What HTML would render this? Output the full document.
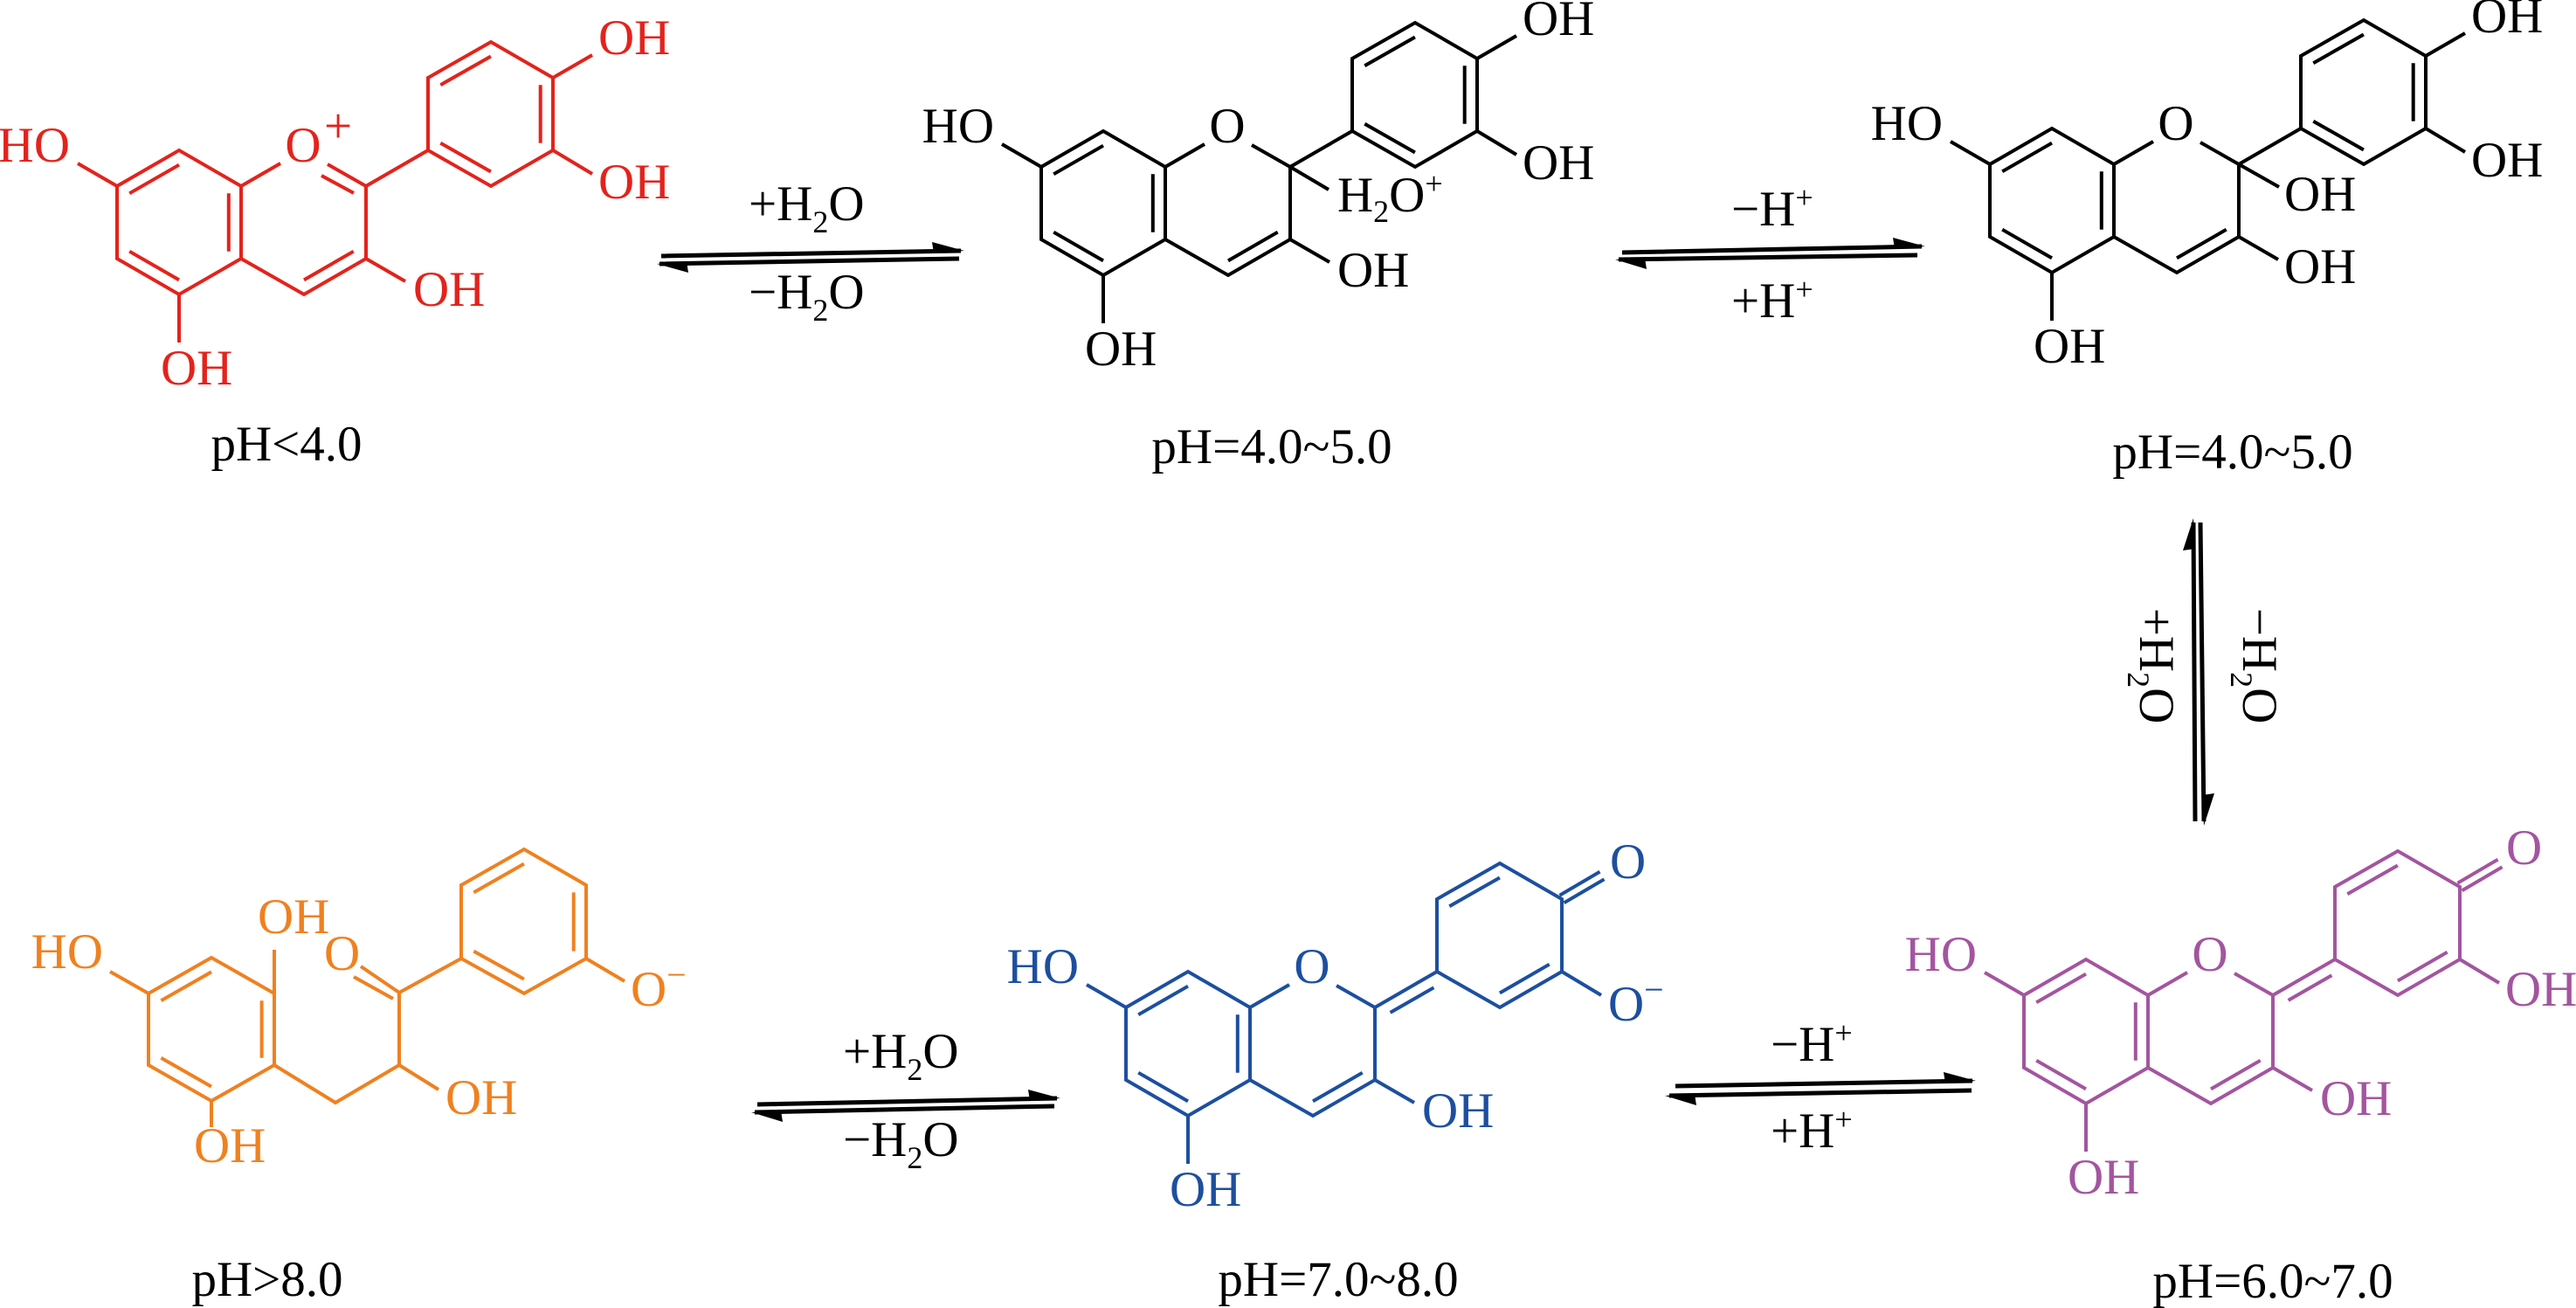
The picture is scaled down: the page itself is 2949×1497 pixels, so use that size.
<!DOCTYPE html>
<html><head><meta charset="utf-8"><style>
html,body{margin:0;padding:0;background:#fff;}
svg{display:block;}
text{font-family:"Liberation Serif",serif;font-size:57px;}
</style></head><body>
<svg width="2949" height="1497" viewBox="0 0 2949 1497" xmlns="http://www.w3.org/2000/svg">
<rect width="2949" height="1497" fill="#fff"/>

<!-- RED flavylium -->
<g transform="translate(134,213)" stroke="#e3231c" stroke-width="4" fill="none">
<path d="M0,0 L71,-41 L142,0 L142,83 L71,124 L0,83 Z M14.2,8.3 L71,-24.3 M127.8,8.3 L127.8,74.7 M71,107.4 L14.2,74.7 M142,0 L187,-26 M241,-25 L285,0 L285,83 L214,124 L142,83 M270.7,74.7 L214,107.4 M234,-12 L271,8 M0,0 L-45,-26 M71,124 L71,179 M285,83 L330,109 M285,0 L356,-41 M356,-41 L356,-124 L428,-165 L499,-124 L499,-41 L428,0 Z M370.3,-115.8 L427.9,-148.5 M370.3,-49.3 L427.9,-16.5 M484.7,-115.8 L484.7,-49.3 M499,-124 L544,-150 M499,-41 L544,-14"/>
<g fill="#e3231c" stroke="none">
<text x="-54" y="-28" text-anchor="end">HO</text>
<text x="213" y="-28" text-anchor="middle">O</text>
<text x="237" y="-50">+</text>
<text x="50" y="227">OH</text>
<text x="339" y="137">OH</text>
<text x="551" y="-151">OH</text>
<text x="551" y="14">OH</text>
</g></g>

<!-- MOL2 black -->
<g transform="translate(1192,191)" stroke="#000" stroke-width="4" fill="none">
<path d="M0,0 L71,-41 L142,0 L142,83 L71,124 L0,83 Z M14.2,8.3 L71,-24.3 M127.8,8.3 L127.8,74.7 M71,107.4 L14.2,74.7 M142,0 L187,-26 M241,-25 L285,0 L285,83 L214,124 L142,83 M270.7,74.7 L214,107.4 M0,0 L-45,-26 M71,124 L71,179 M285,83 L330,109 M285,0 L329,26 M285,0 L356,-41 M356,-41 L356,-124 L428,-165 L499,-124 L499,-41 L428,0 Z M370.3,-115.8 L427.9,-148.5 M370.3,-49.3 L427.9,-16.5 M484.7,-115.8 L484.7,-49.3 M499,-124 L544,-150 M499,-41 L544,-14"/>
<g fill="#000" stroke="none">
<text x="-54" y="-28" text-anchor="end">HO</text>
<text x="213" y="-28" text-anchor="middle">O</text>
<text x="50" y="227">OH</text>
<text x="339" y="137">OH</text>
<text x="339" y="51">H<tspan font-size="36" dy="12">2</tspan><tspan dy="-12">O</tspan><tspan font-size="36" dy="-20">+</tspan></text>
<text x="551" y="-151">OH</text>
<text x="551" y="14">OH</text>
</g></g>

<!-- MOL3 black -->
<g transform="translate(2278,188)" stroke="#000" stroke-width="4" fill="none">
<path d="M0,0 L71,-41 L142,0 L142,83 L71,124 L0,83 Z M14.2,8.3 L71,-24.3 M127.8,8.3 L127.8,74.7 M71,107.4 L14.2,74.7 M142,0 L187,-26 M241,-25 L285,0 L285,83 L214,124 L142,83 M270.7,74.7 L214,107.4 M0,0 L-45,-26 M71,124 L71,179 M285,83 L330,109 M285,0 L331,26 M285,0 L356,-41 M356,-41 L356,-124 L428,-165 L499,-124 L499,-41 L428,0 Z M370.3,-115.8 L427.9,-148.5 M370.3,-49.3 L427.9,-16.5 M484.7,-115.8 L484.7,-49.3 M499,-124 L544,-150 M499,-41 L544,-14"/>
<g fill="#000" stroke="none">
<text x="-54" y="-28" text-anchor="end">HO</text>
<text x="213" y="-28" text-anchor="middle">O</text>
<text x="50" y="227">OH</text>
<text x="337" y="136">OH</text>
<text x="337" y="53">OH</text>
<text x="551" y="-151">OH</text>
<text x="551" y="14">OH</text>
</g></g>

<!-- BLUE -->
<g transform="translate(1289,1153)" stroke="#1d4f9f" stroke-width="4" fill="none">
<path d="M0,0 L71,-41 L142,0 L142,83 L71,124 L0,83 Z M14.2,8.3 L71,-24.3 M127.8,8.3 L127.8,74.7 M71,107.4 L14.2,74.7 M142,0 L187,-26 M241,-25 L285,0 L285,83 L214,124 L142,83 M270.7,74.7 L214,107.4 M0,0 L-45,-26 M71,124 L71,179 M285,83 L330,109 M285,0 L356,-41 M302.6,5.9 L352.4,-22.7 M356,-41 L356,-124 L428,-165 L499,-124 L499,-41 L428,0 Z M370.3,-115.8 L427.9,-148.5 M484.7,-49.3 L427.9,-16.5 M501.5,-119.7 L547.5,-146.7 M496.5,-128.3 L542.5,-155.3 M499,-41 L544,-14"/>
<g fill="#1d4f9f" stroke="none">
<text x="-54" y="-28" text-anchor="end">HO</text>
<text x="213" y="-28" text-anchor="middle">O</text>
<text x="50" y="227">OH</text>
<text x="339" y="137">OH</text>
<text x="554" y="-148">O</text>
<text x="552" y="15">O<tspan font-size="40" dy="-22">−</tspan></text>
</g></g>

<!-- PINK -->
<g transform="translate(2317,1139)" stroke="#a3559f" stroke-width="4" fill="none">
<path d="M0,0 L71,-41 L142,0 L142,83 L71,124 L0,83 Z M14.2,8.3 L71,-24.3 M127.8,8.3 L127.8,74.7 M71,107.4 L14.2,74.7 M142,0 L187,-26 M241,-25 L285,0 L285,83 L214,124 L142,83 M270.7,74.7 L214,107.4 M0,0 L-45,-26 M71,124 L71,179 M285,83 L330,109 M285,0 L356,-41 M302.6,5.9 L352.4,-22.7 M356,-41 L356,-124 L428,-165 L499,-124 L499,-41 L428,0 Z M370.3,-115.8 L427.9,-148.5 M484.7,-49.3 L427.9,-16.5 M501.5,-119.7 L547.5,-146.7 M496.5,-128.3 L542.5,-155.3 M499,-41 L544,-14"/>
<g fill="#a3559f" stroke="none">
<text x="-54" y="-28" text-anchor="end">HO</text>
<text x="213" y="-28" text-anchor="middle">O</text>
<text x="50" y="227">OH</text>
<text x="339" y="137">OH</text>
<text x="552" y="-150">O</text>
<text x="551" y="12">OH</text>
</g></g>

<!-- ORANGE -->
<g stroke="#ef8120" stroke-width="4" fill="none">
<path d="M170,1137 L242,1096 L314,1137 L314,1219 L242,1260 L170,1219 Z M184.4,1145.2 L242,1112.4 M299.6,1145.2 L299.6,1210.8 M242,1243.6 L184.4,1210.8 M170,1137 L126,1112 M314,1137 L314,1087 M242,1260 L242,1290 M314,1219 L384,1262 L457,1219 L457,1136 L528,1097 M457,1219 L502,1247 M457,1136 L413,1106 M450,1143 L405,1118 M528,1097 L528,1013 L600,972 L671,1013 L671,1097 L600,1137 Z M542.3,1021.4 L599.9,988.6 M656.7,1021.4 L656.7,1088.6 M542.3,1088.6 L599.9,1120.6 M671,1097 L715,1123"/>
</g>
<g fill="#ef8120">
<text x="118" y="1108" text-anchor="end">HO</text>
<text x="295" y="1068">OH</text>
<text x="222" y="1330">OH</text>
<text x="510" y="1275">OH</text>
<text x="371" y="1110">O</text>
<text x="722" y="1151">O<tspan font-size="40" dy="-22">−</tspan></text>
</g>

<!-- pH labels -->
<g fill="#000">
<text x="328" y="527" text-anchor="middle">pH&lt;4.0</text>
<text x="1456" y="530" text-anchor="middle">pH=4.0~5.0</text>
<text x="2556" y="536" text-anchor="middle">pH=4.0~5.0</text>
<text x="306" y="1483" text-anchor="middle">pH&gt;8.0</text>
<text x="1532" y="1483" text-anchor="middle">pH=7.0~8.0</text>
<text x="2602" y="1485" text-anchor="middle">pH=6.0~7.0</text>
</g>

<!-- Arrows -->
<g stroke="#000" stroke-width="5" fill="none">
<path d="M757,293 L1100,287 M1098,296 L755,302"/>
<path d="M1857,289 L2200,282 M2195,292 L1853,297"/>
<path d="M867,1264 L1210,1257 M1207,1266 L864,1273"/>
<path d="M1918,1243 L2258,1237 M2257,1248 L1911,1254"/>
<path d="M2511,598 L2513,940 M2519,598 L2523,940"/>
</g>
<g fill="#000">
<polygon points="1104,287 1067,277 1069,290"/>
<polygon points="752,302 788,312 786,299"/>
<polygon points="2204,282 2167,272 2169,285"/>
<polygon points="1849,297 1885,308 1883,295"/>
<polygon points="1214,1257 1177,1247 1179,1260"/>
<polygon points="860,1273 896,1284 894,1271"/>
<polygon points="2262,1237 2225,1227 2227,1240"/>
<polygon points="1906,1254 1942,1265 1940,1252"/>
<polygon points="2511,593 2499,630 2513,628"/>
<polygon points="2523,945 2535,908 2521,910"/>
</g>

<!-- Arrow labels -->
<g fill="#000">
<text x="857" y="252">+H<tspan font-size="36" dy="14">2</tspan><tspan dy="-14">O</tspan></text>
<text x="857" y="353">−H<tspan font-size="36" dy="14">2</tspan><tspan dy="-14">O</tspan></text>
<text x="965" y="1222">+H<tspan font-size="36" dy="14">2</tspan><tspan dy="-14">O</tspan></text>
<text x="965" y="1323">−H<tspan font-size="36" dy="14">2</tspan><tspan dy="-14">O</tspan></text>
<text x="1982" y="258">−H<tspan font-size="36" dy="-20">+</tspan></text>
<text x="1982" y="363">+H<tspan font-size="36" dy="-20">+</tspan></text>
<text x="2027" y="1214">−H<tspan font-size="36" dy="-20">+</tspan></text>
<text x="2027" y="1313">+H<tspan font-size="36" dy="-20">+</tspan></text>
<text transform="translate(2468,762) rotate(90)" text-anchor="middle" y="18">+H<tspan font-size="36" dy="14">2</tspan><tspan dy="-14">O</tspan></text>
<text transform="translate(2586,762) rotate(90)" text-anchor="middle" y="18">−H<tspan font-size="36" dy="14">2</tspan><tspan dy="-14">O</tspan></text>
</g>
</svg>
</body></html>
